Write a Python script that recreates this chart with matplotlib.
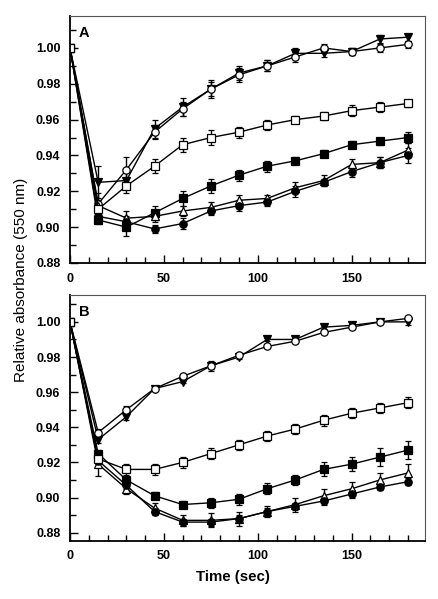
import numpy as np
import matplotlib.pyplot as plt
from matplotlib.ticker import MultipleLocator

plt.rcParams['font.family'] = ['Liberation Sans', 'DejaVu Sans']

### Data ###
time = [0, 15, 30, 45, 60, 75, 90, 105, 120, 135, 150, 165, 180]

# Panel A
a_tri_dn = [1.000, 0.925, 0.926, 0.955, 0.967, 0.977, 0.986, 0.990, 0.997, 0.997, 0.998, 1.005, 1.006]
a_tri_dn_err = [0, 0.009, 0.005, 0.005, 0.005, 0.005, 0.004, 0.003, 0.003, 0.002, 0.002, 0.002, 0.002]
a_circ_open = [1.000, 0.913, 0.932, 0.953, 0.966, 0.977, 0.985, 0.990, 0.995, 1.000, 0.998, 1.000, 1.002]
a_circ_open_err = [0, 0.006, 0.007, 0.004, 0.004, 0.004, 0.004, 0.003, 0.003, 0.002, 0.002, 0.002, 0.002]
a_sq_open = [1.000, 0.910, 0.923, 0.934, 0.946, 0.950, 0.953, 0.957, 0.960, 0.962, 0.965, 0.967, 0.969]
a_sq_open_err = [0, 0.003, 0.004, 0.004, 0.004, 0.004, 0.003, 0.003, 0.002, 0.002, 0.003, 0.003, 0.002]
a_sq_fill = [1.000, 0.904, 0.900, 0.908, 0.916, 0.923, 0.929, 0.934, 0.937, 0.941, 0.946, 0.948, 0.950]
a_sq_fill_err = [0, 0.002, 0.005, 0.004, 0.004, 0.004, 0.003, 0.003, 0.002, 0.002, 0.002, 0.002, 0.003]
a_tri_up = [1.000, 0.912, 0.905, 0.906, 0.909, 0.911, 0.915, 0.916, 0.922, 0.926, 0.935, 0.936, 0.943]
a_tri_up_err = [0, 0.003, 0.004, 0.003, 0.003, 0.003, 0.003, 0.002, 0.003, 0.003, 0.003, 0.003, 0.004]
a_circ_fill = [1.000, 0.906, 0.903, 0.899, 0.902, 0.909, 0.912, 0.914, 0.920, 0.925, 0.931, 0.936, 0.940]
a_circ_fill_err = [0, 0.002, 0.003, 0.002, 0.003, 0.002, 0.003, 0.002, 0.003, 0.002, 0.003, 0.003, 0.004]

# Panel B
b_tri_dn = [1.000, 0.933, 0.946, 0.962, 0.966, 0.975, 0.980, 0.990, 0.990, 0.997, 0.998, 1.000, 1.000]
b_tri_dn_err = [0, 0.002, 0.002, 0.001, 0.001, 0.003, 0.001, 0.001, 0.001, 0.001, 0.001, 0.001, 0.002]
b_circ_open = [1.000, 0.937, 0.950, 0.962, 0.969, 0.975, 0.981, 0.986, 0.989, 0.994, 0.997, 1.000, 1.002]
b_circ_open_err = [0, 0.002, 0.002, 0.001, 0.001, 0.002, 0.001, 0.001, 0.001, 0.001, 0.001, 0.001, 0.001]
b_sq_open = [1.000, 0.922, 0.916, 0.916, 0.920, 0.925, 0.930, 0.935, 0.939, 0.944, 0.948, 0.951, 0.954]
b_sq_open_err = [0, 0.002, 0.003, 0.003, 0.003, 0.003, 0.003, 0.003, 0.003, 0.003, 0.003, 0.003, 0.003]
b_sq_fill = [1.000, 0.925, 0.910, 0.901, 0.896, 0.897, 0.899, 0.905, 0.910, 0.916, 0.919, 0.923, 0.927]
b_sq_fill_err = [0, 0.002, 0.002, 0.002, 0.002, 0.003, 0.003, 0.003, 0.003, 0.004, 0.004, 0.005, 0.005]
b_tri_up = [1.000, 0.919, 0.905, 0.894, 0.887, 0.887, 0.888, 0.892, 0.896, 0.901, 0.905, 0.910, 0.914]
b_tri_up_err = [0, 0.007, 0.003, 0.003, 0.003, 0.004, 0.004, 0.003, 0.004, 0.004, 0.004, 0.004, 0.005]
b_circ_fill = [1.000, 0.921, 0.907, 0.892, 0.886, 0.886, 0.888, 0.892, 0.895, 0.898, 0.902, 0.906, 0.909]
b_circ_fill_err = [0, 0.002, 0.002, 0.002, 0.002, 0.002, 0.002, 0.002, 0.002, 0.002, 0.002, 0.002, 0.002]

### Styles (marker, face colour) ###
styles = [('v', 'black'), ('o', 'white'), ('s', 'black'),
          ('^', 'white'), ('o', 'black'), ('s', 'white')]


def draw_panel(ax, series, ylim, label):
    # Plot every series with error bars
    for (vals, errs), (mk, fc) in zip(series, styles):
        ax.errorbar(time, vals, yerr=errs, color='black', lw=1,
                    marker=mk, mfc=fc, mec='black', ms=5.3, mew=0.9,
                    capsize=2.5, elinewidth=1, capthick=1)
    ax.set_xlim(0, 189)
    ax.set_ylim(*ylim)
    ax.xaxis.set_major_locator(MultipleLocator(50))
    ax.xaxis.set_minor_locator(MultipleLocator(10))
    ax.yaxis.set_major_locator(MultipleLocator(0.02))
    ax.yaxis.set_minor_locator(MultipleLocator(0.01))
    ax.yaxis.set_major_formatter(plt.FormatStrFormatter('%.2f'))
    ax.tick_params(which='both', direction='in', top=False, right=False)
    ax.tick_params(which='major', length=6, width=1, pad=7, labelsize=9)
    ax.tick_params(which='minor', length=4, width=1)
    for t in ax.get_xticklabels() + ax.get_yticklabels():
        t.set_fontweight('bold')
    for side in ['left', 'bottom']:
        ax.spines[side].set_linewidth(1.3)
    for side in ['top', 'right']:
        ax.spines[side].set_linewidth(0.8)
        ax.spines[side].set_color('#555555')
    ax.text(0.025, 0.93, label, transform=ax.transAxes, fontsize=10.5,
            fontweight='bold', ha='left', va='center')


fig = plt.figure(figsize=(4.39, 5.99), dpi=100)
ax_a = fig.add_axes([0.1595, 0.561, 0.8085, 0.4128])
ax_b = fig.add_axes([0.1595, 0.0973, 0.8085, 0.4102])

series_a = [(a_tri_dn, a_tri_dn_err), (a_circ_open, a_circ_open_err),
            (a_sq_fill, a_sq_fill_err), (a_tri_up, a_tri_up_err),
            (a_circ_fill, a_circ_fill_err), (a_sq_open, a_sq_open_err)]
series_b = [(b_tri_dn, b_tri_dn_err), (b_circ_open, b_circ_open_err),
            (b_sq_fill, b_sq_fill_err), (b_tri_up, b_tri_up_err),
            (b_circ_fill, b_circ_fill_err), (b_sq_open, b_sq_open_err)]

draw_panel(ax_a, series_a, (0.88, 1.018), 'A')
draw_panel(ax_b, series_b, (0.8754, 1.0153), 'B')

# Axis titles placed as in the original figure
fig.text(0.531, 0.037, 'Time (sec)', fontsize=10.8, fontweight='bold',
         ha='center', va='center')
fig.text(0.048, 0.532, 'Relative absorbance (550 nm)', rotation=90,
         fontsize=11, ha='center', va='center')

fig.savefig('out.png', dpi=100)
